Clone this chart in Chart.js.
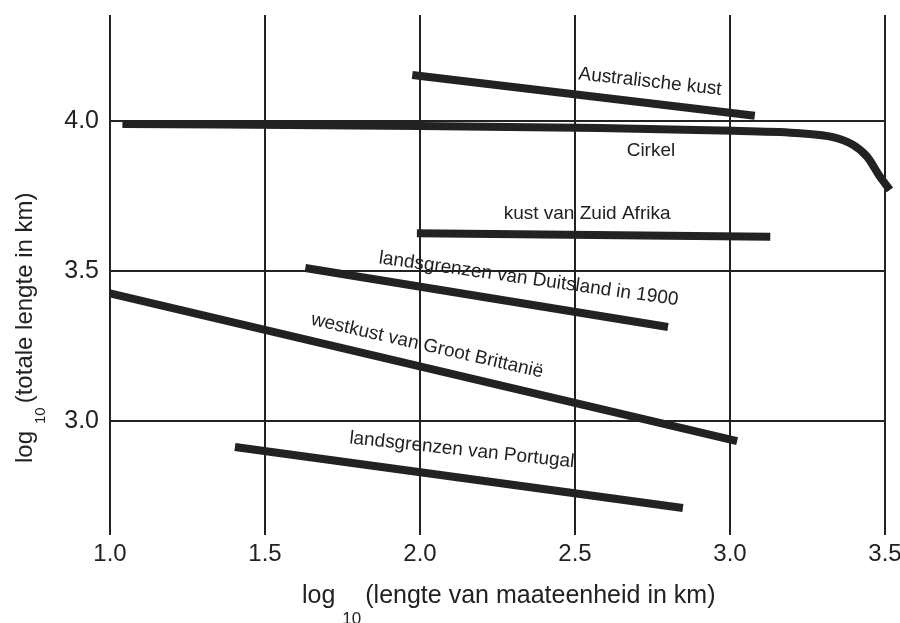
<!DOCTYPE html>
<html>
<head>
<meta charset="utf-8">
<script src="https://cdn.jsdelivr.net/npm/chart.js@4/dist/chart.umd.min.js"></script>
<style>
  html, body { margin: 0; padding: 0; background: #fff; }
</style>
</head>
<body>
<canvas id="chart" width="900" height="623"></canvas>
<script>
// log10 of measuring unit (x) against log10 of total length (y)
const seriesNames = [
    'Australische kust',
    'Cirkel',
    'kust van Zuid Afrika',
    'landsgrenzen van Duitsland in 1900',
    'westkust van Groot Brittanië',
    'landsgrenzen van Portugal'
];
const australiaX = [1.975, 3.08];
const australiaY = [4.153, 4.017];
const circleX = [1.04, 2.0, 2.58, 3.01, 3.226, 3.332, 3.397, 3.442, 3.484, 3.516];
const circleY = [3.99, 3.983, 3.976, 3.967, 3.959, 3.946, 3.92, 3.881, 3.814, 3.77];
const southAfricaX = [1.99, 3.13];
const southAfricaY = [3.626, 3.614];
const germanyX = [1.63, 2.80];
const germanyY = [3.51, 3.313];
const britainX = [1.0, 3.023];
const britainY = [3.425, 2.933];
const portugalX = [1.403, 2.848];
const portugalY = [2.913, 2.71];

const xTicks = [1.0, 1.5, 2.0, 2.5, 3.0, 3.5];
const yTicks = [3.0, 3.5, 4.0];

// where the series names sit (data units) and their tilt in degrees
const labelX = [2.742, 2.745, 2.539, 2.35, 2.023, 2.135];
const labelY = [4.13, 3.9, 3.69, 3.473, 3.25, 2.903];
const labelAngle = [6.3, 0, 0, 8.0, 12.9, 6.1];

const INK = '#222222';
const FONT = '"Liberation Sans", Arial, Helvetica, sans-serif';

function points(xs, ys) {
    return xs.map((v, i) => ({ x: v, y: ys[i] }));
}

const seriesData = [
    points(australiaX, australiaY),
    points(circleX, circleY),
    points(southAfricaX, southAfricaY),
    points(germanyX, germanyY),
    points(britainX, britainY),
    points(portugalX, portugalY)
];

// "log" + subscript "10" + rest, drawn from the current origin along +x
function drawLogTitle(ctx, rest, size, subSize, subDrop) {
    ctx.font = size + 'px ' + FONT;
    ctx.fillText('log', 0, 0);
    let pos = ctx.measureText('log').width + 7;
    ctx.font = subSize + 'px ' + FONT;
    ctx.fillText('10', pos, subDrop);
    pos += ctx.measureText('10').width + 4;
    ctx.font = size + 'px ' + FONT;
    ctx.fillText(rest, pos, 0);
}

const annotate = {
    id: 'annotate',
    afterDatasetsDraw(chart) {
        const { ctx } = chart;
        const { x, y } = chart.scales;
        ctx.save();
        ctx.fillStyle = INK;

        // series labels
        ctx.font = '19px ' + FONT;
        ctx.textAlign = 'center';
        ctx.textBaseline = 'middle';
        seriesNames.forEach((name, i) => {
            ctx.save();
            ctx.translate(x.getPixelForValue(labelX[i]), y.getPixelForValue(labelY[i]));
            ctx.rotate(labelAngle[i] * Math.PI / 180);
            ctx.fillText(name, 0, 0);
            ctx.restore();
        });

        // axis titles
        ctx.textAlign = 'left';
        ctx.textBaseline = 'alphabetic';
        ctx.save();
        ctx.translate(302, 603);
        drawLogTitle(ctx, '(lengte van maateenheid in km)', 25, 17, 21);
        ctx.restore();

        ctx.save();
        ctx.translate(32, 463);
        ctx.rotate(-Math.PI / 2);
        drawLogTitle(ctx, '(totale lengte in km)', 24, 15, 13);
        ctx.restore();

        ctx.restore();
    }
};

new Chart(document.getElementById('chart'), {
    type: 'line',
    data: {
        datasets: seriesData.map((d, i) => ({
            label: seriesNames[i],
            data: d,
            borderColor: INK,
            borderWidth: 8,
            borderCapStyle: 'butt',
            pointRadius: 0,
            fill: false,
            clip: false,
            cubicInterpolationMode: i === 1 ? 'monotone' : 'default',
            tension: 0
        }))
    },
    options: {
        responsive: false,
        animation: false,
        devicePixelRatio: 1,
        layout: { padding: { top: 15, right: 15, left: 0, bottom: 0 } },
        plugins: {
            legend: { display: false },
            tooltip: { enabled: false }
        },
        scales: {
            x: {
                type: 'linear',
                min: 1.0,
                max: 3.5,
                afterBuildTicks: (scale) => { scale.ticks = xTicks.map(v => ({ value: v })); },
                afterFit: (scale) => { scale.height = 88; scale.paddingLeft = 0; scale.paddingRight = 0; },
                grid: { color: INK, lineWidth: 2, drawTicks: false },
                border: { display: false },
                ticks: {
                    color: INK,
                    padding: 5,
                    maxRotation: 0,
                    font: { family: FONT, size: 24 },
                    callback: (v) => Number(v).toFixed(1)
                }
            },
            y: {
                type: 'linear',
                min: 2.62,
                max: 4.353,
                afterBuildTicks: (scale) => { scale.ticks = yTicks.map(v => ({ value: v })); },
                afterFit: (scale) => { scale.width = 110; scale.paddingTop = 0; scale.paddingBottom = 0; },
                grid: { color: INK, lineWidth: 2, drawTicks: false },
                border: { display: false },
                ticks: {
                    color: INK,
                    padding: 11,
                    font: { family: FONT, size: 25 },
                    callback: (v) => Number(v).toFixed(1)
                }
            }
        }
    },
    plugins: [annotate]
});
</script>
</body>
</html>
